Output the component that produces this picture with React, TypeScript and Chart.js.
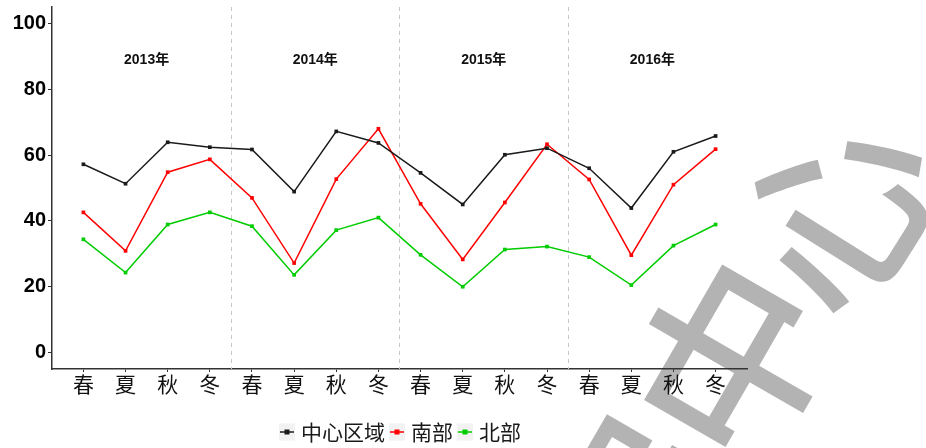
import React, { useEffect, useRef } from 'react';
import { Chart, registerables } from 'chart.js';

Chart.register(...registerables);

const seasons = ['春', '夏', '秋', '冬'];
const years = ['2013年', '2014年', '2015年', '2016年'];
const categories = years.flatMap(() => seasons);
const seriesNames = ['中心区域', '南部', '北部'];
const centralValues = [57.2, 51.3, 63.9, 62.4, 61.7, 48.9, 67.2, 63.7, 54.6, 45.0, 60.1, 62.1, 56.0, 43.9, 61.0, 65.8];
const southValues = [42.6, 30.9, 54.8, 58.7, 47.0, 27.2, 52.7, 68.0, 45.2, 28.3, 45.6, 63.3, 52.6, 29.6, 51.0, 61.8];
const northValues = [34.4, 24.3, 38.9, 42.6, 38.4, 23.6, 37.2, 41.0, 29.7, 20.0, 31.3, 32.2, 29.0, 20.5, 32.5, 38.9];
const seriesColors = ['#1a1a1a', '#ff0000', '#00cc00'];
const yTicks = [0, 20, 40, 60, 80, 100];
const yearLabelValue = 89;

const watermark = [
  { ch: '据', x: 636, y: 526, rot: -60 },
  { ch: '中', x: 731, y: 360, rot: -60 },
  { ch: '心', x: 836, y: 211, rot: -58 },
];

const decorPlugin = {
  id: 'decor',
  beforeDraw(chart: any) {
    const ctx = chart.ctx;
    ctx.save();
    ctx.fillStyle = '#b3b3b3';
    ctx.font = '500 192px "Noto Sans CJK SC"';
    ctx.textAlign = 'center';
    ctx.textBaseline = 'middle';
    for (const w of watermark) {
      ctx.save();
      ctx.translate(w.x, w.y);
      ctx.rotate((w.rot * Math.PI) / 180);
      ctx.fillText(w.ch, 0, 0);
      ctx.restore();
    }
    ctx.restore();
  },
  beforeDatasetsDraw(chart: any) {
    const { ctx, chartArea, scales } = chart;
    const x = scales.x;
    const y = scales.y;
    ctx.save();
    ctx.strokeStyle = '#c8c8c8';
    ctx.lineWidth = 1;
    ctx.setLineDash([4, 4]);
    years.slice(1).forEach((_, i) => {
      const px = Math.round(x.getPixelForValue((i + 1) * seasons.length + 0.5)) + 0.5;
      ctx.beginPath();
      ctx.moveTo(px, chartArea.top);
      ctx.lineTo(px, chartArea.bottom);
      ctx.stroke();
    });
    ctx.setLineDash([]);
    ctx.fillStyle = '#111111';
    ctx.font = 'bold 14px "Liberation Sans", "Noto Sans CJK SC"';
    ctx.textAlign = 'center';
    ctx.textBaseline = 'middle';
    years.forEach((t, i) => {
      ctx.fillText(t, x.getPixelForValue(i * seasons.length + 2.5), y.getPixelForValue(yearLabelValue));
    });
    ctx.restore();
  },
  afterDraw(chart: any) {
    const { ctx, chartArea } = chart;
    const datasets = chart.data.datasets;
    ctx.save();
    ctx.font = '21px "Noto Sans CJK SC"';
    ctx.textBaseline = 'middle';
    ctx.textAlign = 'left';
    const keyW = 16;
    const keyH = 17;
    const gap = 6;
    const itemGap = 4;
    const widths = datasets.map((d: any) => ctx.measureText(d.label).width);
    const total = widths.reduce((a: number, w: number) => a + keyW + gap + w, 0) + itemGap * (datasets.length - 1);
    let cx = Math.round((chartArea.left + chartArea.right) / 2 - total / 2);
    const cy = 432;
    datasets.forEach((d: any, i: number) => {
      ctx.fillStyle = '#f2f2f2';
      ctx.fillRect(cx, cy - keyH / 2, keyW, keyH);
      ctx.strokeStyle = d.borderColor;
      ctx.lineWidth = 1.5;
      ctx.beginPath();
      ctx.moveTo(cx + 1, cy);
      ctx.lineTo(cx + keyW - 1, cy);
      ctx.stroke();
      ctx.fillStyle = d.borderColor;
      ctx.fillRect(cx + keyW / 2 - 2.5, cy - 2.5, 5, 5);
      cx += keyW + gap;
      ctx.fillStyle = '#1a1a1a';
      ctx.fillText(d.label, cx, cy);
      cx += widths[i] + itemGap;
    });
    ctx.restore();
  },
};

export default function App() {
  const canvasRef = useRef<HTMLCanvasElement | null>(null);

  useEffect(() => {
    if (!canvasRef.current) return;
    const allValues = [centralValues, southValues, northValues];
    const chart = new Chart(canvasRef.current, {
      type: 'line',
      data: {
        datasets: allValues.map((vals, s) => ({
          label: seriesNames[s],
          data: vals.map((v, i) => ({ x: i + 1, y: v })),
          borderColor: seriesColors[s],
          backgroundColor: seriesColors[s],
          borderWidth: 1.5,
          pointStyle: 'rect',
          pointRadius: 2.6,
          pointBorderWidth: 0,
          tension: 0,
          fill: false,
        })),
      },
      options: {
        animation: false,
        responsive: true,
        maintainAspectRatio: false,
        layout: { padding: { top: 7, right: 179, left: 0, bottom: 0 } },
        plugins: {
          legend: { display: false },
          tooltip: { enabled: false },
        },
        scales: {
          x: {
            type: 'linear',
            min: 0.255,
            max: categories.length + 0.745,
            afterBuildTicks: (scale: any) => {
              scale.ticks = categories.map((_, i) => ({ value: i + 1 }));
            },
            afterFit: (scale: any) => {
              scale.height = 79;
              scale.paddingLeft = 0;
              scale.paddingRight = 0;
            },
            ticks: {
              autoSkip: false,
              maxRotation: 0,
              padding: -1,
              color: '#111111',
              font: { family: '"Noto Sans CJK SC"', size: 21 },
              callback: (v: any) => categories[Math.round(v) - 1] ?? '',
            },
            grid: { drawOnChartArea: false, drawTicks: true, tickLength: 3, color: '#333333', lineWidth: 1 },
            border: { display: true, color: '#333333', width: 1.5 },
          },
          y: {
            type: 'linear',
            min: -5,
            max: 105,
            afterBuildTicks: (scale: any) => {
              scale.ticks = yTicks.map((v) => ({ value: v }));
            },
            afterFit: (scale: any) => {
              scale.width = 52;
              scale.paddingTop = 0;
              scale.paddingBottom = 0;
            },
            ticks: {
              padding: 2,
              color: '#000000',
              font: { family: '"Liberation Sans", Arial', size: 20, weight: 'bold' },
            },
            grid: { drawOnChartArea: false, drawTicks: true, tickLength: 4, color: '#333333', lineWidth: 1 },
            border: { display: true, color: '#333333', width: 1.5 },
          },
        },
      },
      plugins: [decorPlugin],
    });
    return () => chart.destroy();
  }, []);

  return (
    <div style={{ position: 'absolute', left: 0, top: 0, width: 926, height: 448 }}>
      <canvas ref={canvasRef} />
    </div>
  );
}
